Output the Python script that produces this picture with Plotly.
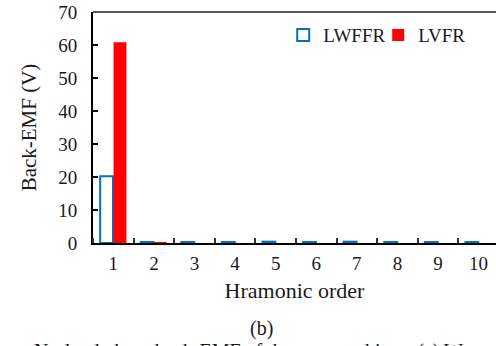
import plotly.graph_objects as go

harmonics = [1, 2, 3, 4, 5, 6, 7, 8, 9, 10]
tick_labels = ["1", "2", "3", "4", "5", "6", "7", "8", "9", "10"]
lwffr = [20.2, 0.3, 0.3, 0.3, 0.4, 0.3, 0.4, 0.3, 0.3, 0.3]
lvfr = [60.8, 0.25, 0.0, 0.0, 0.0, 0.0, 0.0, 0.0, 0.0, 0.0]

FONT = "Liberation Serif, Times New Roman, serif"
BLUE = "#0070C0"
RED = "#FF0000"

fig = go.Figure()
fig.add_trace(go.Bar(
    x=harmonics, y=lwffr, name="LWFFR",
    marker=dict(color="white", line=dict(color=BLUE, width=2)),
))
fig.add_trace(go.Bar(
    x=harmonics, y=lvfr, name="LVFR",
    marker=dict(color=RED, line=dict(width=0)),
))

fig.update_layout(
    width=496, height=346,
    margin=dict(l=93, r=0, t=12, b=103),
    paper_bgcolor="white", plot_bgcolor="white",
    font=dict(family=FONT, color="#1a1a1a", size=19),
    barmode="group", bargap=0.34, bargroupgap=0.04,
    showlegend=True,
    legend=dict(
        orientation="h", x=0.472, y=0.9, xanchor="left", yanchor="middle",
        bgcolor="rgba(0,0,0,0)", font=dict(size=19, family=FONT),
        itemwidth=30, tracegroupgap=0, entrywidth=50,
    ),
    xaxis=dict(
        range=[0.5, 10.43],
        tickmode="array", tickvals=harmonics, ticktext=tick_labels,
        ticks="", showgrid=False, zeroline=False,
        showline=True, linecolor="black", linewidth=2,
        tickfont=dict(size=19, family=FONT),
        ticklabelstandoff=2,
        minor=dict(tick0=0.5, dtick=1, ticks="inside", ticklen=5,
                   tickcolor="#333333", tickwidth=1.5, showgrid=False),
        title=dict(text="Hramonic order", font=dict(size=22, family=FONT), standoff=10),
    ),
    yaxis=dict(
        range=[0, 70], dtick=10, tick0=0,
        ticks="inside", ticklen=5, tickcolor="black", tickwidth=1.5,
        showgrid=False, zeroline=False,
        showline=True, linecolor="black", linewidth=2,
        tickfont=dict(size=19, family=FONT),
        ticklabelstandoff=10,
        title=dict(text="Back-EMF (V)", font=dict(size=21, family=FONT), standoff=16),
    ),
    shapes=[dict(type="line", xref="paper", yref="paper", x0=0, x1=1, y0=1, y1=1,
                 line=dict(color="#595959", width=2))],
    annotations=[
        dict(text="(b)", xref="paper", yref="paper", x=0.417, y=-0.368,
             xanchor="center", yanchor="middle", showarrow=False,
             font=dict(size=20, family=FONT, color="#1a1a1a")),
        dict(text="No-load phase back-EMF of the two machines. (a) W", xref="paper", yref="paper",
             x=0.385, y=-0.41, xanchor="center", yanchor="top", showarrow=False,
             font=dict(size=20, family=FONT, color="#1a1a1a")),
    ],
)

fig.write_html("out.html")
